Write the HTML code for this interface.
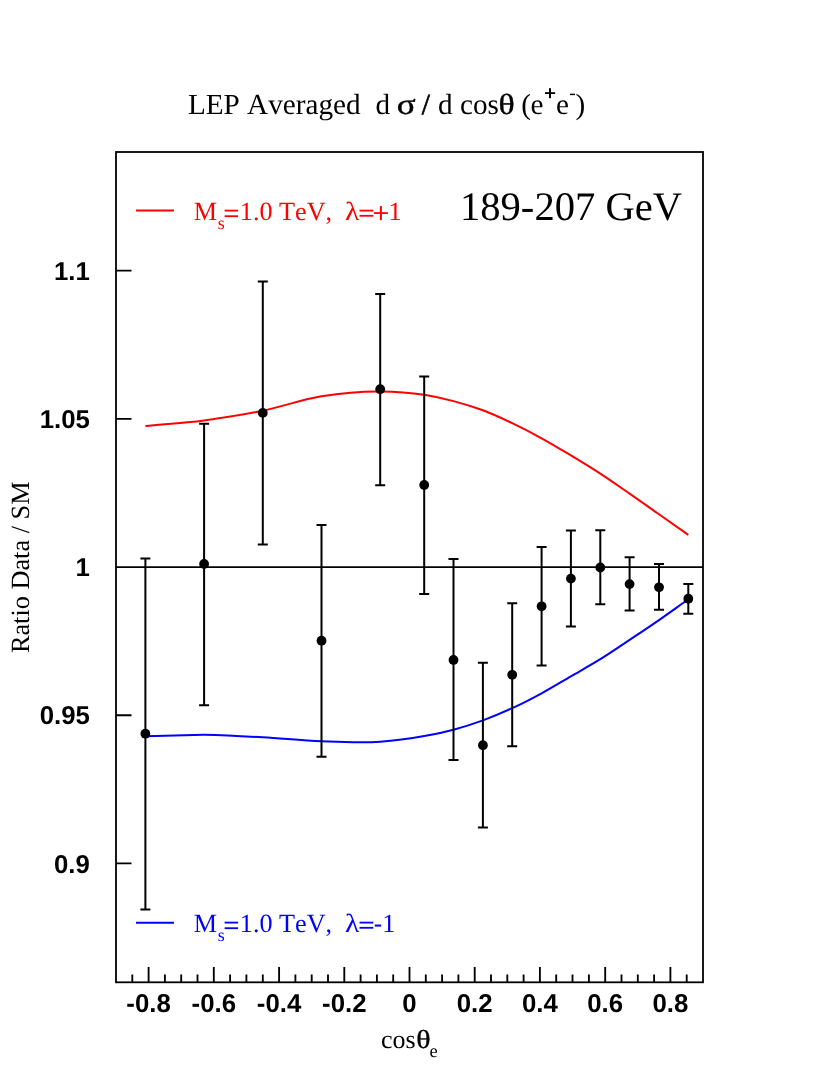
<!DOCTYPE html>
<html><head><meta charset="utf-8"><title>LEP Averaged</title>
<style>
html,body{margin:0;padding:0;background:#fff;}
body{width:834px;height:1079px;overflow:hidden;}
svg{display:block;will-change:transform;font-kerning:none;font-variant-ligatures:none;text-rendering:geometricPrecision;}
.se{font-family:"Liberation Serif",serif;}
.sa{font-family:"Liberation Sans",sans-serif;font-weight:bold;}
</style></head><body>
<svg width="834" height="1079" viewBox="0 0 834 1079">
<rect width="834" height="1079" fill="#fff"/>

<rect x="116" y="152" width="587" height="830.3" fill="none" stroke="#000" stroke-width="1.8"/>
<line x1="116" x2="703" y1="567.2" y2="567.2" stroke="#000" stroke-width="1.8"/>
<path d="M132.3,982V974.6M148.6,982V967M164.9,982V974.6M181.2,982V974.6M197.5,982V974.6M213.8,982V967M230.1,982V974.6M246.4,982V974.6M262.8,982V974.6M279.1,982V967M295.4,982V974.6M311.7,982V974.6M328.0,982V974.6M344.3,982V967M360.6,982V974.6M376.9,982V974.6M393.2,982V974.6M409.5,982V967M425.8,982V974.6M442.1,982V974.6M458.4,982V974.6M474.7,982V967M491.0,982V974.6M507.3,982V974.6M523.6,982V974.6M539.9,982V967M556.2,982V974.6M572.5,982V974.6M588.9,982V974.6M605.2,982V967M621.5,982V974.6M637.8,982V974.6M654.1,982V974.6M670.4,982V967M686.7,982V974.6" stroke="#000" stroke-width="1.85" fill="none"/>
<path d="M116,863.4H131.5M116,715.2H131.5M116,418.8H131.5M116,270.6H131.5" stroke="#000" stroke-width="1.85" fill="none"/>
<path d="M145.4,426.1C164.9,424.20 184.5,422.97 204.1,420.4C223.6,417.83 243.2,414.72 262.8,410.7C282.3,406.68 301.9,399.52 321.5,396.3C341.0,393.08 360.6,391.24 380.2,391.4C394.8,391.52 409.5,392.46 424.2,394.8C434.0,396.36 443.7,398.52 453.5,401.1C463.3,403.68 473.1,406.62 482.9,410.3C492.7,413.98 502.4,418.53 512.2,423.2C522.0,427.87 531.8,432.93 541.6,438.3C551.4,443.67 561.1,449.52 570.9,455.4C580.7,461.28 590.5,467.23 600.3,473.6C610.1,479.97 619.8,486.82 629.6,493.6C639.4,500.38 649.2,507.42 659.0,514.3C668.7,521.18 678.5,528.03 688.3,534.9" fill="none" stroke="#ff0000" stroke-width="2"/>
<path d="M145.4,736.3C164.9,735.77 184.5,735.23 204.1,734.7C223.6,735.22 243.2,736.20 262.8,737.3C282.3,738.40 301.9,740.57 321.5,741.3C341.0,742.03 360.6,743.09 380.2,741.7C394.8,740.66 409.5,738.65 424.2,736.0C434.0,734.23 443.7,732.30 453.5,729.7C463.3,727.10 473.1,723.98 482.9,720.4C492.7,716.82 502.4,712.72 512.2,708.2C522.0,703.68 531.8,698.62 541.6,693.3C551.4,687.98 561.1,681.98 570.9,676.3C580.7,670.62 590.5,665.27 600.3,659.2C610.1,653.13 619.8,646.42 629.6,639.9C639.4,633.38 649.2,626.87 659.0,620.1C668.7,613.33 678.5,606.23 688.3,599.3" fill="none" stroke="#0000ff" stroke-width="2"/>
<path d="M145.4,558.6V909.6M140.4,558.6H150.4M140.4,909.6H150.4M204.1,423.7V705.2M199.1,423.7H209.1M199.1,705.2H209.1M262.8,281.6V544.4M257.8,281.6H267.8M257.8,544.4H267.8M321.5,525.1V756.7M316.5,525.1H326.5M316.5,756.7H326.5M380.2,294.0V485.2M375.2,294.0H385.2M375.2,485.2H385.2M424.2,376.6V594.0M419.2,376.6H429.2M419.2,594.0H429.2M453.5,559.1V760.0M448.5,559.1H458.5M448.5,760.0H458.5M482.9,662.8V827.5M477.9,662.8H487.9M477.9,827.5H487.9M512.2,603.3V746.3M507.2,603.3H517.2M507.2,746.3H517.2M541.6,547.0V665.4M536.6,547.0H546.6M536.6,665.4H546.6M570.9,530.6V626.6M565.9,530.6H575.9M565.9,626.6H575.9M600.3,530.3V604.2M595.3,530.3H605.3M595.3,604.2H605.3M629.6,557.2V610.5M624.6,557.2H634.6M624.6,610.5H634.6M659.0,564.1V609.7M654.0,564.1H664.0M654.0,609.7H664.0M688.3,584.1V613.7M683.3,584.1H693.3M683.3,613.7H693.3" stroke="#000" stroke-width="2" fill="none"/>
<circle cx="145.4" cy="733.7" r="4.9" fill="#000"/>
<circle cx="204.1" cy="564.0" r="4.9" fill="#000"/>
<circle cx="262.8" cy="412.9" r="4.9" fill="#000"/>
<circle cx="321.5" cy="640.7" r="4.9" fill="#000"/>
<circle cx="380.2" cy="389.2" r="4.9" fill="#000"/>
<circle cx="424.2" cy="485.0" r="4.9" fill="#000"/>
<circle cx="453.5" cy="660.0" r="4.9" fill="#000"/>
<circle cx="482.9" cy="745.2" r="4.9" fill="#000"/>
<circle cx="512.2" cy="674.8" r="4.9" fill="#000"/>
<circle cx="541.6" cy="606.3" r="4.9" fill="#000"/>
<circle cx="570.9" cy="578.6" r="4.9" fill="#000"/>
<circle cx="600.3" cy="567.5" r="4.9" fill="#000"/>
<circle cx="629.6" cy="584.1" r="4.9" fill="#000"/>
<circle cx="659.0" cy="587.3" r="4.9" fill="#000"/>
<circle cx="688.3" cy="598.7" r="4.9" fill="#000"/>
<line x1="136" x2="174" y1="210.4" y2="210.4" stroke="#ff0000" stroke-width="2"/>
<line x1="136" x2="174" y1="922.8" y2="922.8" stroke="#0000ff" stroke-width="2"/>
<g class="se" fill="#ff0000" font-size="26.2"><text x="193.8" y="219.8">M</text><text x="217.7" y="229.0" font-size="18">s</text><rect x="224.6" y="209.7" width="13.5" height="1.8"/><rect x="224.6" y="215.3" width="13.5" height="1.8"/><text x="239.8" y="219.8">1.0 TeV,</text><text transform="translate(344.9,219.8) scale(1.13,1)">λ</text><rect x="359.5" y="209.7" width="13.8" height="1.8"/><rect x="359.5" y="214.9" width="13.8" height="1.8"/><rect x="373.9" y="212.2" width="14" height="1.8"/><rect x="379.9" y="206.1" width="2" height="14.1"/><text x="388.4" y="219.8">1</text></g>
<g class="se" fill="#0000ff" font-size="26.2"><text x="193.8" y="931.8">M</text><text x="217.7" y="941.0" font-size="18">s</text><rect x="224.6" y="921.7" width="13.5" height="1.8"/><rect x="224.6" y="927.3" width="13.5" height="1.8"/><text x="239.8" y="931.8">1.0 TeV,</text><text transform="translate(344.9,931.8) scale(1.13,1)">λ</text><rect x="359.5" y="921.7" width="13.8" height="1.8"/><rect x="359.5" y="926.9" width="13.8" height="1.8"/><rect x="374.8" y="924.5" width="6.3" height="2.1"/><text x="382.3" y="931.8">1</text></g>
<text class="se" x="460" y="220.1" font-size="40.6">189-207 GeV</text>
<g class="se" font-size="29.2"><text x="187.9" y="113.8">LEP Averaged</text><text x="375.5" y="113.8">d</text><text transform="translate(396.7,113.8) scale(1.2,1)" stroke="#000" stroke-width="0.45">σ</text><text x="421.7" y="113.8" stroke="#000" stroke-width="0.7">/</text><text x="438" y="113.8">d</text><text x="460" y="113.8">cos</text><text transform="translate(498.6,113.8) scale(1.16,1)" stroke="#000" stroke-width="0.4">θ</text><text x="521.3" y="113.8">(</text><text x="530.6" y="113.8">e</text><rect x="545" y="92.2" width="10.1" height="1.8"/><rect x="549" y="88.2" width="2" height="10"/><text x="556" y="113.8">e</text><text x="569.3" y="99.2" font-size="19.5">-</text><text x="575.6" y="113.8">)</text></g>
<text class="sa" x="89.9" y="279.8" font-size="25.8" text-anchor="end">1.1</text>
<text class="sa" x="89.9" y="428.0" font-size="25.8" text-anchor="end">1.05</text>
<text class="sa" x="89.9" y="576.2" font-size="25.8" text-anchor="end">1</text>
<text class="sa" x="89.9" y="724.4" font-size="25.8" text-anchor="end">0.95</text>
<text class="sa" x="89.9" y="872.6" font-size="25.8" text-anchor="end">0.9</text>
<text class="sa" x="148.6" y="1012.2" font-size="25.8" text-anchor="middle">-0.8</text>
<text class="sa" x="213.8" y="1012.2" font-size="25.8" text-anchor="middle">-0.6</text>
<text class="sa" x="279.1" y="1012.2" font-size="25.8" text-anchor="middle">-0.4</text>
<text class="sa" x="344.3" y="1012.2" font-size="25.8" text-anchor="middle">-0.2</text>
<text class="sa" x="409.5" y="1012.2" font-size="25.8" text-anchor="middle">0</text>
<text class="sa" x="474.7" y="1012.2" font-size="25.8" text-anchor="middle">0.2</text>
<text class="sa" x="539.9" y="1012.2" font-size="25.8" text-anchor="middle">0.4</text>
<text class="sa" x="605.2" y="1012.2" font-size="25.8" text-anchor="middle">0.6</text>
<text class="sa" x="670.4" y="1012.2" font-size="25.8" text-anchor="middle">0.8</text>
<text class="se" font-size="26.3" transform="translate(29.1,653.1) rotate(-90)">Ratio Data / SM</text>
<g class="se" font-size="26"><text x="381" y="1048.3">cos</text><text transform="translate(416.2,1048.3) scale(1.15,1)" stroke="#000" stroke-width="0.35">θ</text><text x="429.5" y="1056.6" font-size="18.5">e</text></g>
</svg></body></html>
